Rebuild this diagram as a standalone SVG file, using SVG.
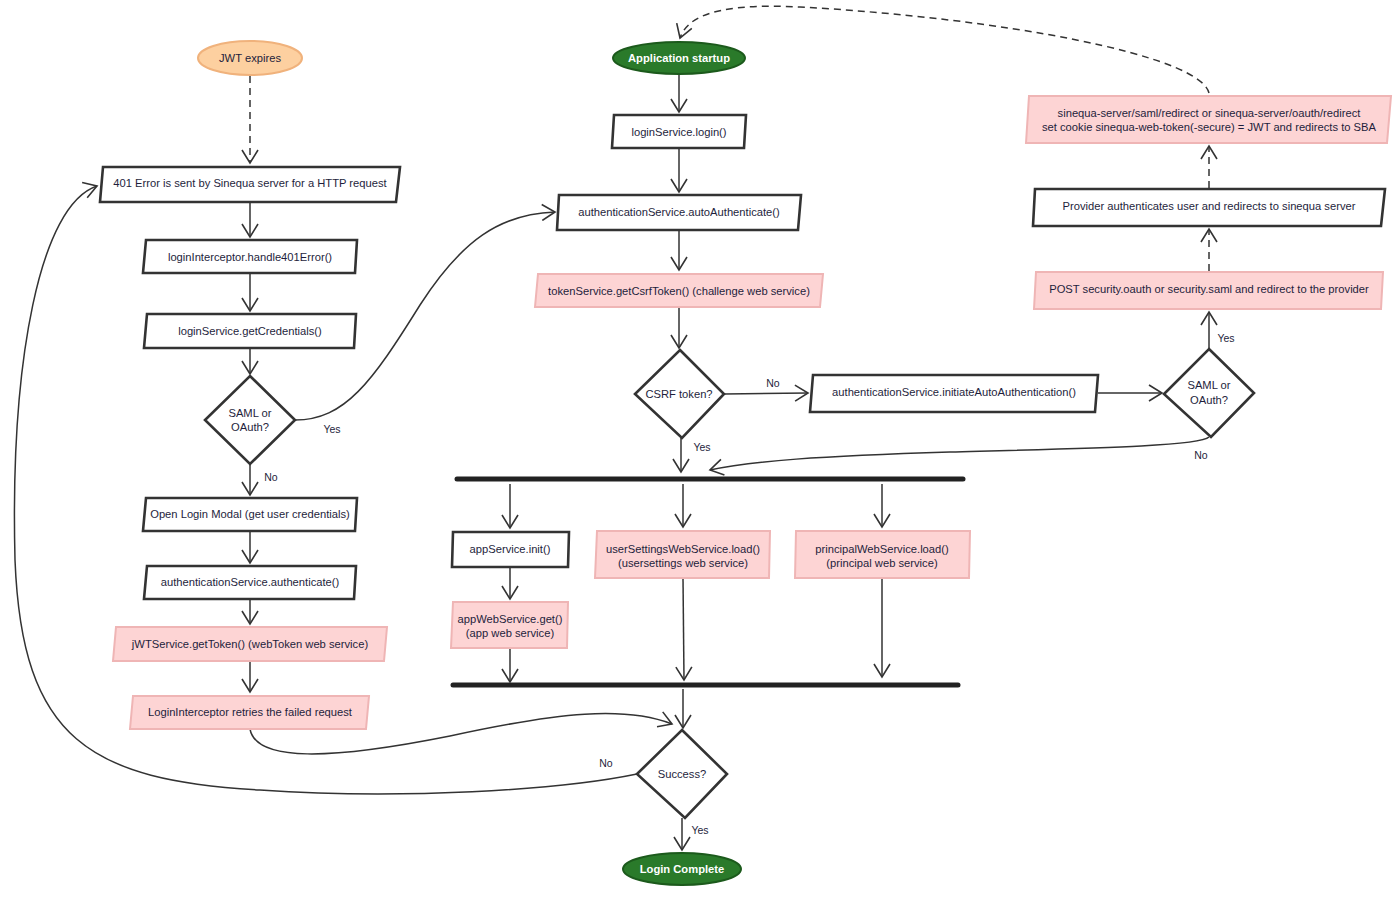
<svg xmlns="http://www.w3.org/2000/svg" width="1396" height="897" viewBox="0 0 1396 897">
<defs>
<marker id="ah" viewBox="0 0 16 18" refX="14" refY="9" markerWidth="16" markerHeight="18" markerUnits="userSpaceOnUse" orient="auto">
<path d="M1,1 L14,9 L1,17" fill="none" stroke="#333" stroke-width="1.6"/>
</marker>
</defs>
<style>
text{font-family:"Liberation Sans",Arial,sans-serif;font-size:11.2px;fill:#1e1e3c;text-anchor:middle}
.box{fill:#fff;stroke:#333;stroke-width:2.6}
.pink{fill:#fdd4d4;stroke:#efb5b5;stroke-width:2}
.dia{fill:#fff;stroke:#333;stroke-width:2.6}
.c{fill:none;stroke:#333;stroke-width:1.5;marker-end:url(#ah)}
.d{stroke-dasharray:7,5}
.bar{stroke:#222;stroke-width:5;stroke-linecap:round}
.green{fill:#2a7a2a;stroke:#1c5a1c;stroke-width:2}
.wt{fill:#fff;font-weight:bold}
.lbl{font-size:10.5px}
</style>
<rect width="1396" height="897" fill="#fff"/>

<g id="connectors">
<path class="c d" d="M250,76 L250,163"/>
<path class="c" d="M250,201 L250,237"/>
<path class="c" d="M250,272 L250,311"/>
<path class="c" d="M250,347 L250,374"/>
<path class="c" d="M250,464 L250,495"/>
<path class="c" d="M250,530 L250,563"/>
<path class="c" d="M250,598 L250,624"/>
<path class="c" d="M250,661 L250,692"/>
<path class="c" d="M250,729 C256,762 330,760 450,736 C560,712 625,706 672,724"/>
<path class="c" d="M295,420 C345,420 372,382 420,305 C462,240 500,214 555,212"/>
<path class="c" d="M637,774 C560,790 400,800 260,790 C90,780 22,740 15,560 C10,360 40,205 97,186"/>
<path class="c" d="M679,74 L679,112"/>
<path class="c" d="M679,148 L679,192"/>
<path class="c" d="M679,230 L679,270"/>
<path class="c" d="M679,307 L679,348"/>
<path class="c" d="M724,394 L808,393"/>
<path class="c" d="M681,438 L681,472"/>
<path class="c" d="M1098,393 L1162,393"/>
<path class="c" d="M1209,437 C1200,446 1100,448 950,452 C820,456 750,461 710,470"/>
<path class="c" d="M1209,349 L1209,312"/>
<path class="c d" d="M1209,271 L1209,229"/>
<path class="c d" d="M1209,188 L1209,146"/>
<path class="c d" d="M1209,93 C1200,55 1000,18 800,7 C720,3 688,15 680,38"/>
<line class="bar" x1="457" y1="479" x2="963" y2="479"/>
<line class="bar" x1="453" y1="685" x2="958" y2="685"/>
<path class="c" d="M510,484 L510,528"/>
<path class="c" d="M683,484 L683,527"/>
<path class="c" d="M882,484 L882,527"/>
<path class="c" d="M510,567 L510,599"/>
<path class="c" d="M510,648 L510,682"/>
<path class="c" d="M683,578 L684,680"/>
<path class="c" d="M882,578 L882,677"/>
<path class="c" d="M683,689 L683,728"/>
<path class="c" d="M682,818 L682,850"/>
<text class="lbl" x="271" y="481">No</text>
<text class="lbl" x="332" y="433">Yes</text>
<text class="lbl" x="606" y="767">No</text>
<text class="lbl" x="773" y="387">No</text>
<text class="lbl" x="702" y="451">Yes</text>
<text class="lbl" x="1201" y="459">No</text>
<text class="lbl" x="1226" y="342">Yes</text>
<text class="lbl" x="700" y="834">Yes</text>
</g>

<g id="jwt-expires">
<ellipse cx="250" cy="58" rx="52" ry="17" fill="#fdd0a0" stroke="#f0b27c" stroke-width="2"/>
<text x="250" y="62">JWT expires</text>
</g>
<g id="error401">
<polygon class="box" points="103,167 400,167 396,202 100,202"/>
<text x="250" y="187">401 Error is sent by Sinequa server for a HTTP request</text>
</g>
<g id="handle401">
<polygon class="box" points="146,240 357,240 355,273 143,273"/>
<text x="250" y="261">loginInterceptor.handle401Error()</text>
</g>
<g id="getCredentials">
<polygon class="box" points="147,314 356,314 354,348 144,348"/>
<text x="250" y="335">loginService.getCredentials()</text>
</g>
<g id="saml-left">
<polygon class="dia" points="250,376 295,420 250,464 205,420"/>
<text x="250" y="417">SAML or</text>
<text x="250" y="431">OAuth?</text>
</g>
<g id="openModal">
<polygon class="box" points="146,498 357,498 355,531 143,531"/>
<text x="250" y="518">Open Login Modal (get user credentials)</text>
</g>
<g id="authenticate">
<polygon class="box" points="147,566 356,566 354,599 144,599"/>
<text x="250" y="586">authenticationService.authenticate()</text>
</g>
<g id="getToken">
<polygon class="pink" points="116,627 387,627 384,661 113,661"/>
<text x="250" y="648">jWTService.getToken() (webToken web service)</text>
</g>
<g id="retries">
<polygon class="pink" points="133,696 369,696 366,729 130,729"/>
<text x="250" y="716">LoginInterceptor retries the failed request</text>
</g>

<g id="app-startup">
<ellipse class="green" cx="679" cy="58" rx="66" ry="16"/>
<text class="wt" x="679" y="62">Application startup</text>
</g>
<g id="login">
<polygon class="box" points="614,115 746,115 744,148 612,148"/>
<text x="679" y="136">loginService.login()</text>
</g>
<g id="autoAuth">
<polygon class="box" points="559,195 801,195 798,230 557,230"/>
<text x="679" y="216">authenticationService.autoAuthenticate()</text>
</g>
<g id="csrfToken">
<polygon class="pink" points="538,274 823,274 820,307 535,307"/>
<text x="679" y="295">tokenService.getCsrfToken() (challenge web service)</text>
</g>
<g id="csrf-dia">
<polygon class="dia" points="680,350 724,394 682,438 635,394"/>
<text x="679" y="398">CSRF token?</text>
</g>
<g id="initiate">
<polygon class="box" points="813,375 1098,375 1095,412 810,412"/>
<text x="954" y="396">authenticationService.initiateAutoAuthentication()</text>
</g>
<g id="saml-right">
<polygon class="dia" points="1209,349 1254,393 1211,437 1164,394"/>
<text x="1209" y="389">SAML or</text>
<text x="1209" y="404">OAuth?</text>
</g>
<g id="post">
<polygon class="pink" points="1036,272 1383,272 1381,309 1034,309"/>
<text x="1209" y="293">POST security.oauth or security.saml and redirect to the provider</text>
</g>
<g id="provider">
<polygon class="box" points="1035,189 1385,189 1381,226 1033,226"/>
<text x="1209" y="210">Provider authenticates user and redirects to sinequa server</text>
</g>
<g id="redirect">
<polygon class="pink" points="1029,96 1391,96 1387,143 1026,143"/>
<text x="1209" y="117">sinequa-server/saml/redirect or sinequa-server/oauth/redirect</text>
<text x="1209" y="131">set cookie sinequa-web-token(-secure) = JWT and redirects to SBA</text>
</g>

<g id="appInit">
<polygon class="box" points="453,532 569,532 568,567 452,567"/>
<text x="510" y="553">appService.init()</text>
</g>
<g id="appWeb">
<polygon class="pink" points="453,602 568,602 567,648 451,648"/>
<text x="510" y="623">appWebService.get()</text>
<text x="510" y="637">(app web service)</text>
</g>
<g id="userSettings">
<polygon class="pink" points="597,531 770,531 769,578 595,578"/>
<text x="683" y="553">userSettingsWebService.load()</text>
<text x="683" y="567">(usersettings web service)</text>
</g>
<g id="principal">
<polygon class="pink" points="796,531 970,531 969,578 795,578"/>
<text x="882" y="553">principalWebService.load()</text>
<text x="882" y="567">(principal web service)</text>
</g>
<g id="success">
<polygon class="dia" points="682,730 727,774 685,818 637,774"/>
<text x="682" y="778">Success?</text>
</g>
<g id="login-complete">
<ellipse class="green" cx="682" cy="869" rx="59" ry="16"/>
<text class="wt" x="682" y="873">Login Complete</text>
</g>
</svg>
